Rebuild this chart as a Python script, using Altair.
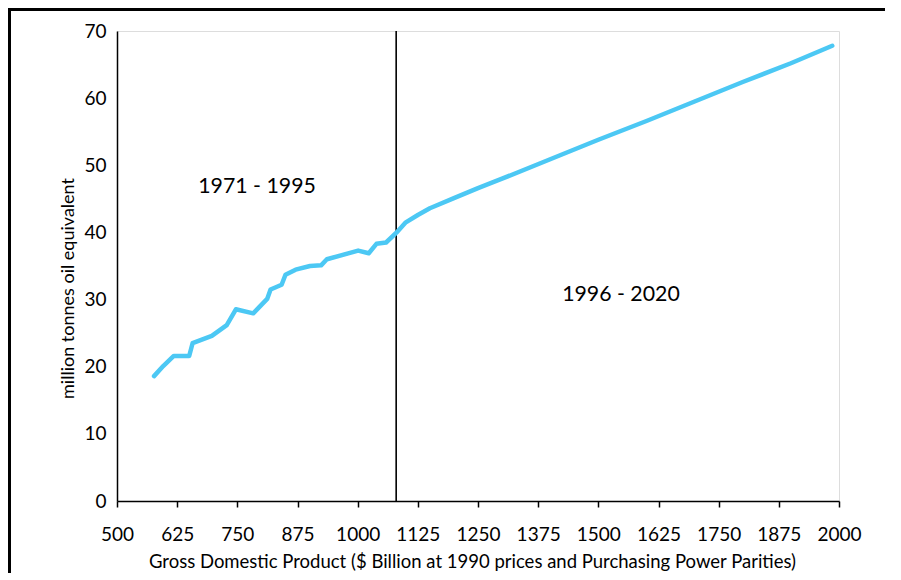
import altair as alt
import pandas as pd

# Historical series 1971-1995 (GDP $bn 1990 PPP, energy Mtoe)
gdp_hist = [577, 596, 618, 650, 657, 697, 728, 747, 783, 812, 819, 842, 850, 871,
            901, 924, 936, 1001, 1023, 1039, 1059, 1081]
energy_hist = [18.6, 20.1, 21.6, 21.6, 23.5, 24.6, 26.2, 28.55, 27.95, 30.1, 31.5,
               32.2, 33.7, 34.45, 35.0, 35.1, 36.0, 37.3, 36.9, 38.3, 38.5, 40.0]
# Projection 1996-2020
gdp_proj = [1100, 1125, 1150, 1200, 1250, 1300, 1400, 1500, 1600, 1700, 1800, 1900, 1986]
energy_proj = [41.5, 42.6, 43.6, 45.1, 46.6, 48.0, 50.9, 53.8, 56.6, 59.5, 62.4, 65.2, 67.8]

divider_gdp = [1080]
x_ticks = [500, 625, 750, 875, 1000, 1125, 1250, 1375, 1500, 1625, 1750, 1875, 2000]
y_ticks = [0, 10, 20, 30, 40, 50, 60, 70]

labels = ["1971 - 1995", "1996 - 2020"]
label_gdp = [791, 1547]
label_energy = [46.8, 30.7]

FONT = "Lato"
LINE_COLOR = "#4CC8F4"

gdp_all = gdp_hist + gdp_proj
energy_all = energy_hist + energy_proj
df = pd.DataFrame({"gdp": gdp_all, "energy": energy_all, "order": list(range(len(gdp_all)))})
df_div = pd.DataFrame({"gdp": divider_gdp})
df_lab = pd.DataFrame({"label": labels, "gdp": label_gdp, "energy": label_energy})

xscale = alt.Scale(domain=[500, 2000], nice=False, zero=False)
yscale = alt.Scale(domain=[0, 70], nice=False)

W, H = 722, 470
PAD = {"left": 109, "top": 23, "right": 46, "bottom": 72}

line = alt.Chart(df).mark_line(
    color=LINE_COLOR, strokeWidth=4.5, strokeCap="round", strokeJoin="round"
).encode(
    x=alt.X("gdp:Q", scale=xscale, axis=alt.Axis(
        values=x_ticks, format="d",
        title="Gross Domestic Product ($ Billion at 1990 prices and Purchasing Power Parities)",
        grid=False, tickSize=6, tickColor="black", domainColor="black", domainWidth=1.5, tickWidth=1.5,
        labelFont=FONT, labelFontSize=19, labelColor="black", labelBaseline="alphabetic",
        labelPadding=33, labelFlush=False,
        titleFont=FONT, titleFontSize=18.5, titleFontWeight="normal", titleColor="black",
        titleBaseline="alphabetic", titleY=66, titleX=355)),
    y=alt.Y("energy:Q", scale=yscale, axis=alt.Axis(
        values=y_ticks, format="d", title="million tonnes oil equivalent", grid=False,
        ticks=False, tickSize=0, domainColor="black", domainWidth=1.5,
        labelFont=FONT, labelFontSize=19, labelColor="black", labelPadding=11,
        titleFont=FONT, titleFontSize=18, titleFontWeight="normal", titleColor="black",
        titleAngle=270, titleAlign="center", titleBaseline="middle",
        titleX=-49, titleY=257)),
    order="order:Q",
)

divider = alt.Chart(df_div).mark_rule(color="black", strokeWidth=1.6).encode(
    x=alt.X("gdp:Q", scale=xscale), y=alt.value(0), y2=alt.value(H)
)

texts = alt.Chart(df_lab).mark_text(font=FONT, fontSize=21.3, color="black",
                                    align="center", baseline="middle").encode(
    x=alt.X("gdp:Q", scale=xscale), y=alt.Y("energy:Q", scale=yscale), text="label:N"
)

frame_left = alt.Chart(df_div).mark_rule(color="black", strokeWidth=3).encode(
    x=alt.value(-PAD["left"] + 1.5), y=alt.value(-PAD["top"]), y2=alt.value(H + PAD["bottom"])
)
frame_top = alt.Chart(df_div).mark_rule(color="black", strokeWidth=3).encode(
    x=alt.value(-PAD["left"]), x2=alt.value(W + PAD["right"]), y=alt.value(-PAD["top"] + 1.5)
)

chart = alt.layer(frame_left, frame_top, divider, line, texts).properties(
    width=W, height=H,
    autosize=alt.AutoSizeParams(type="none"),
    padding=PAD,
).configure_view(stroke="black", strokeWidth=1.2).configure(background="white")

chart.save("out.html", embed_options={"renderer": "svg", "actions": False})
